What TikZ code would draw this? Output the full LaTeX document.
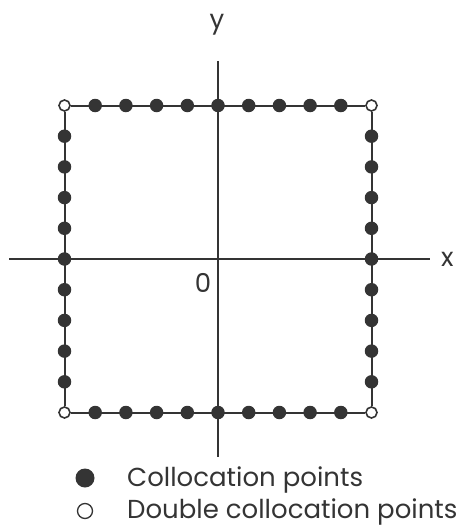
\documentclass[tikz,border=0pt]{standalone}
\usepackage{fontspec}
\setmainfont{Poppins}
\usetikzlibrary{positioning}
\definecolor{ink}{RGB}{52,52,52}

\begin{document}
\begin{tikzpicture}[x=1pt,y=-1pt,
    colpt/.style={circle,fill=ink,inner sep=0pt,minimum size=13.5pt},
    dblpt/.style={circle,draw=ink,line width=1.6pt,fill=white,inner sep=0pt,minimum size=11pt},
    axisline/.style={draw=ink,line width=1.5pt},
    sideline/.style={draw=ink,line width=2pt},
    lbl/.style={font=\fontsize{26}{30}\selectfont,text=ink,inner sep=0pt}]
  \useasboundingbox (0,0) rectangle (469,527);

  % axes
  \coordinate (xl) at (9,259);
  \coordinate (xr) at (430,259);
  \coordinate (yt) at (218,61);
  \coordinate (yb) at (218,457);
  \draw[axisline] (xl) -- (xr);
  \draw[axisline] (yt) -- (yb);
  \node[lbl,right=11pt of xr] (xlab) {x};
  \node[lbl,anchor=base] (ylab) at (217,29) {y};
  \node[lbl] (olab) at (203,283) {0};

  % square with double points at the corners
  \node[dblpt] (tl) at (64.5,105.5) {};
  \node[dblpt] (tr) at (371.5,105.5) {};
  \node[dblpt] (br) at (371.5,412.5) {};
  \node[dblpt] (bl) at (64.5,412.5) {};
  \draw[sideline] (tl) -- (tr);
  \draw[sideline] (tr) -- (br);
  \draw[sideline] (br) -- (bl);
  \draw[sideline] (bl) -- (tl);

  % collocation points
  \foreach \k in {1,...,9} {
    \node[colpt] (top\k) at ({64.5+30.7*\k},105.5) {};
    \node[colpt] (bot\k) at ({64.5+30.7*\k},412.5) {};
    \node[colpt] (lft\k) at (64.5,{105.5+30.7*\k}) {};
    \node[colpt] (rgt\k) at (371.5,{105.5+30.7*\k}) {};
  }

  % key
  \node[colpt,minimum size=19pt] (keycol) at (85,478) {};
  \node[lbl,anchor=base west] (keycoltext) at (127,486) {Collocation points};
  \node[circle,draw=ink,line width=1.3pt,inner sep=0pt,minimum size=15pt] (keydbl) at (85,511) {};
  \node[lbl,anchor=base west] (keydbltext) at (127,518) {Double collocation points};
\end{tikzpicture}
\end{document}
